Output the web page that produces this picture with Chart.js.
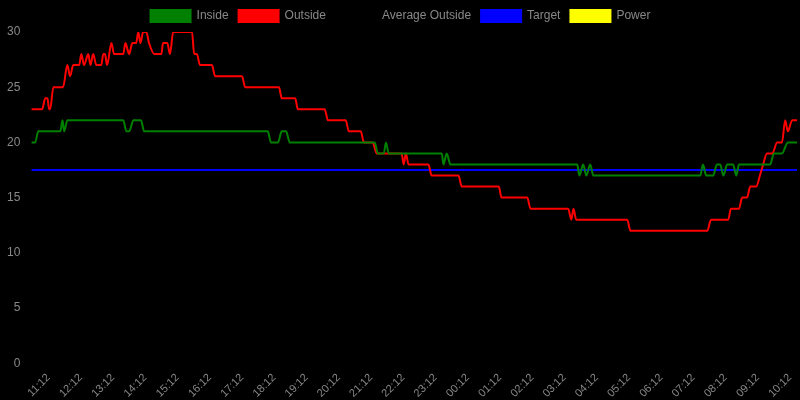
<!DOCTYPE html>
<html><head><meta charset="utf-8">
<script src="https://cdn.jsdelivr.net/npm/chart.js@4/dist/chart.umd.min.js"></script>
<style>html,body{margin:0;background:#000;}#w{width:800px;height:400px;}</style>
</head><body><div id="w"><canvas id="c"></canvas></div>
<script>
// minutes since 10:12 (first hourly tick 11:12 = 60)
const outsideTimes = [28,48,54,58,61,63,69,87,95,100,106,117,121,126,134,138,143,149,158,162,165,169,177,182,199,203,210,216,223,227,231,236,242,247,257,270,273,281,286,292,327,331,336,342,364,370,420,426,489,494,519,524,574,580,613,619,641,647,663,671,717,721,725,730,767,773,823,829,898,903,951,957,1027,1033,1037,1042,1137,1143,1286,1293,1325,1330,1345,1351,1360,1366,1377,1384,1390,1397,1407,1416,1425,1431,1436,1444,1453];
const outsideValues = [23,23,24,24,23,23,25,25,27,26,27,27,28,27,28,27,28,27,27,28,28,27,29,28,28,29,28,29,29,30,29,30,30,29,28,28,29,29,28,30,30,28,28,27,27,26,26,25,25,24,24,23,23,22,22,21,21,20,20,19,19,18,19,18,18,17,17,16,16,15,15,14,14,13,14,13,13,12,12,13,13,14,14,15,15,16,16,17,18,19,19,20,20,22,21,22,22];
const insideTimes = [28,35,41,82,86,89,95,199,205,210,218,232,238,468,474,487,494,502,509,667,673,684,688,693,792,795,801,808,1044,1048,1055,1061,1068,1074,1273,1278,1284,1297,1304,1310,1316,1323,1334,1340,1345,1403,1410,1425,1436,1453];
const insideValues = [20,20,21,21,22,21,22,22,21,21,22,22,21,21,20,20,21,21,20,20,19,19,20,19,19,18,19,18,18,17,18,17,18,17,17,18,17,17,18,18,17,18,18,17,18,18,19,19,20,20];
const targetTimes = [28,1453];
const targetValues = [17.5,17.5];
const seriesNames = ['Inside','Outside','Average Outside','Target','Power'];
const yTicks = [0,5,10,15,20,25,30];
const xTickFirst = 60, xTickLast = 1440, xTickStep = 60;

const pts = (t,v)=>t.map((x,i)=>({x:x,y:v[i]}));
const mk = (label,color,data)=>({label,data,borderColor:color,backgroundColor:color,borderWidth:2,pointRadius:0,cubicInterpolationMode:'monotone',fill:false});
new Chart(document.getElementById('c'),{
 type:'line',
 data:{datasets:[
  mk(seriesNames[0],'#008000',pts(insideTimes,insideValues)),
  mk(seriesNames[1],'#ff0000',pts(outsideTimes,outsideValues)),
  mk(seriesNames[2],'#000000',[]),
  mk(seriesNames[3],'#0000ff',pts(targetTimes,targetValues)),
  mk(seriesNames[4],'#ffff00',[])
 ]},
 options:{
  responsive:true,maintainAspectRatio:false,animation:false,
  layout:{padding:{right:3,left:4}},
  plugins:{legend:{labels:{color:'#888',font:{family:'Liberation Sans',size:12},boxWidth:40,boxHeight:12}},tooltip:{enabled:false}},
  scales:{
   x:{type:'linear',min:28,max:1453,grid:{display:false},border:{display:false},
      afterBuildTicks:a=>{const t=[];for(let v=xTickFirst;v<=xTickLast;v+=xTickStep)t.push({value:v});a.ticks=t;},
      ticks:{autoSkip:false,maxRotation:45,minRotation:45,padding:0,color:'#888',font:{family:'Liberation Sans',size:11},
        callback:v=>{const m=v+12;const h=(10+Math.floor(m/60))%24;const mm=m%60;return String(h).padStart(2,'0')+':'+String(mm).padStart(2,'0');}}},
   y:{min:0,max:30,grid:{display:false},border:{display:false},
      afterBuildTicks:a=>{a.ticks=yTicks.map(v=>({value:v}));},
      ticks:{color:'#888',font:{family:'Liberation Sans',size:12}}}
  }
 }
});
</script></body></html>
